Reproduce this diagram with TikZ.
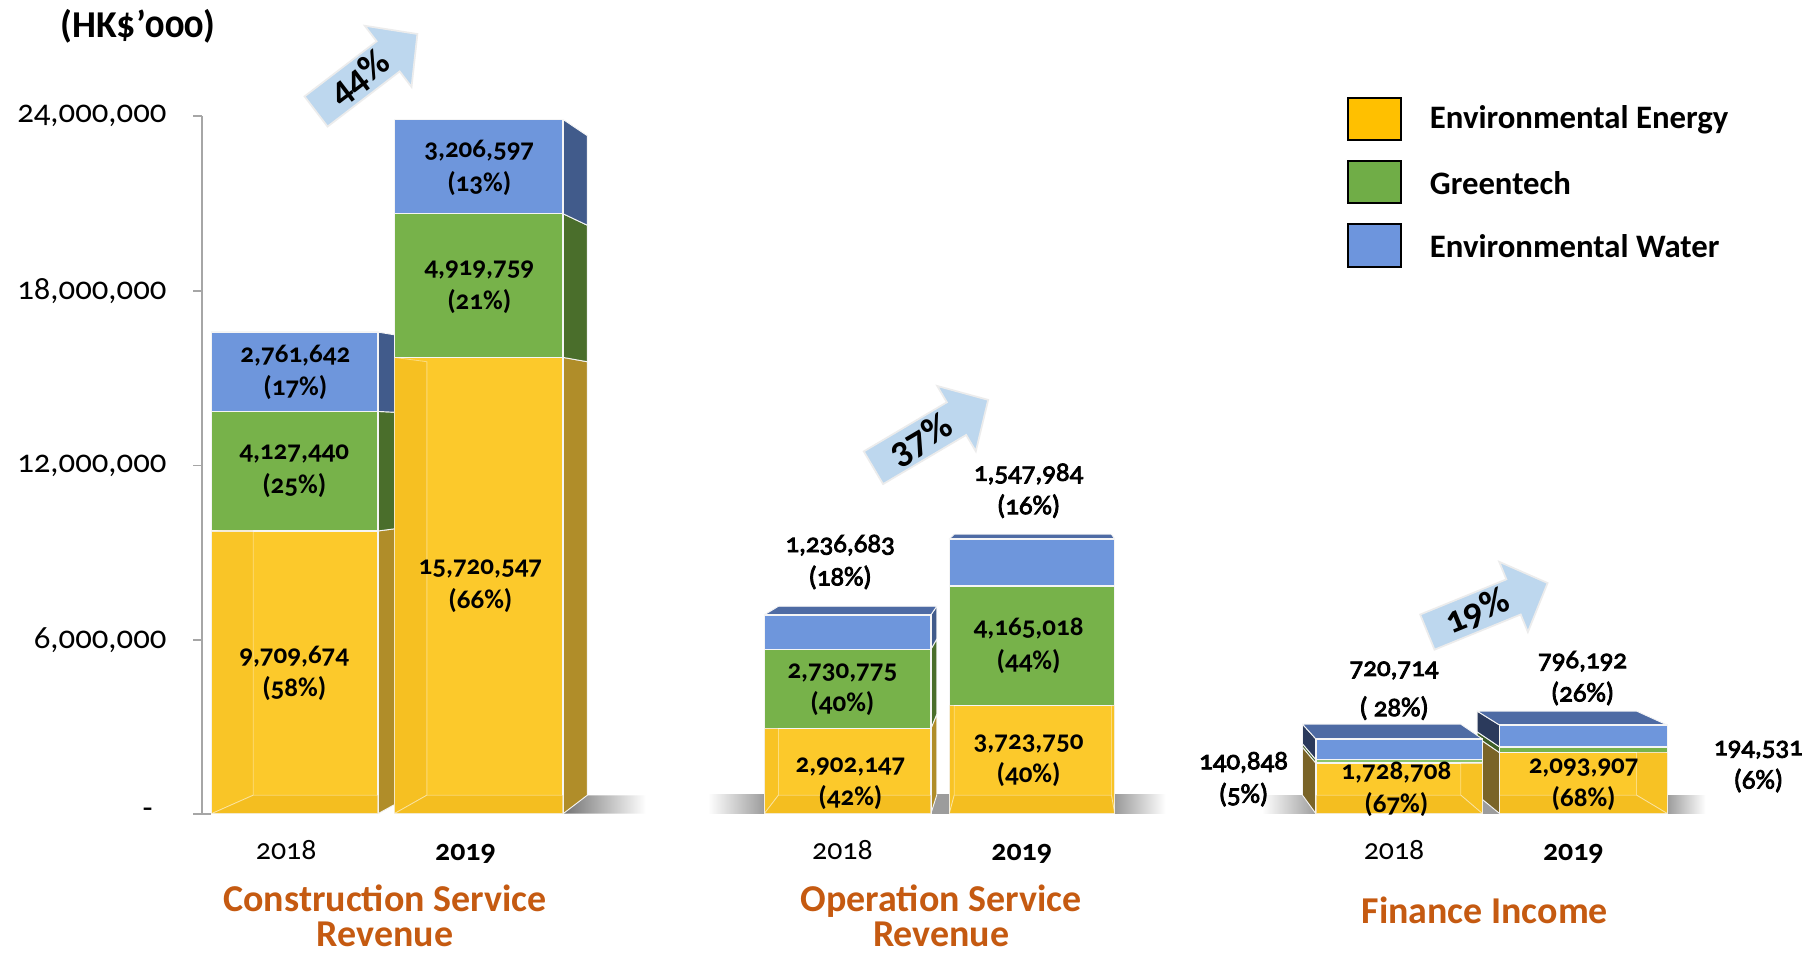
\documentclass[tikz,border=0pt]{standalone}
\usepackage{fontspec}
\setmainfont{Carlito}[Numbers=OldStyle]
\newfontfamily\medfont{Carlito}[Numbers=OldStyle, FakeBold=3]
\usetikzlibrary{calc}
\definecolor{ee}{HTML}{FCC92B}
\definecolor{eeside}{HTML}{B08D29}
\definecolor{eeleft}{HTML}{7A6428}
\definecolor{eebot}{HTML}{E9AE10}
\definecolor{gt}{HTML}{77B24A}
\definecolor{gtside}{HTML}{4A6E2B}
\definecolor{gtleft}{HTML}{3E5E26}
\definecolor{gtthin}{HTML}{8CC46A}
\definecolor{ew}{HTML}{6E96DC}
\definecolor{ewside}{HTML}{415B8B}
\definecolor{ewleft}{HTML}{2B3A5C}
\definecolor{ewtop}{HTML}{4E6BA4}
\definecolor{legee}{HTML}{FFC000}
\definecolor{leggt}{HTML}{70AD47}
\definecolor{legew}{HTML}{6D95DD}
\definecolor{arrowfill}{HTML}{BDD7EE}
\definecolor{titlecol}{HTML}{C55A11}
\definecolor{axisgray}{HTML}{A6A6A6}
\definecolor{slab}{HTML}{9C9C9C}
% quad face between a front edge and its receding copy toward V
\newcommand\qface[5]{\filldraw[face,fill=#1] (#2,#3) -- ($(#2,#3)!0.05!(V)$) -- ($(#4,#5)!0.05!(V)$) -- (#4,#5) -- cycle;}
\newcommand\qinner[6]{\filldraw[inner,fill=#1,fill opacity=#6] (#2,#3) -- ($(#2,#3)!0.05!(V)$) -- ($(#4,#5)!0.05!(V)$) -- (#4,#5) -- cycle;}
\newcommand\fseg[5]{\filldraw[seg,fill=#1] (#2,#3) rectangle (#4,#5);}
\tikzset{
  face/.style={draw=white!92!gray, line width=0.8, line join=round},
  inner/.style={draw=white, draw opacity=0.4, line width=0.7},
  seg/.style={draw=white!92!gray, line width=1.2},
  lab/.style={font=\fontsize{23.5}{29}\selectfont\bfseries, align=center, inner sep=0},
  olab/.style={font=\fontsize{23.5}{29}\selectfont\medfont, align=center, inner sep=0},
  axl/.style={font=\fontsize{28.5}{30}\selectfont, anchor=east, inner sep=0},
  yr/.style={font=\fontsize{26}{30}\selectfont, inner sep=0},
  yrb/.style={font=\fontsize{26}{30}\selectfont\bfseries, inner sep=0},
  ttl/.style={font=\fontsize{33}{30}\selectfont\bfseries, text=titlecol, align=center, inner sep=0},
  leg/.style={font=\fontsize{28.5}{30}\selectfont\bfseries, anchor=west, inner sep=0},
  legbox/.style={draw=black, line width=1.8},
  arr/.style={fill=arrowfill, draw=white!85!gray, line width=1.5, line join=miter},
  arrtxt/.style={font=\fontsize{33}{33}\selectfont\bfseries, inner sep=0},
}
\begin{document}
\begin{tikzpicture}[x=1pt,y=-1pt]
\fill[white] (0,0) rectangle (1568,830);
\useasboundingbox (0,0) rectangle (1568,830);
\coordinate (V) at (912,386);

% ---- floor slabs ----
\shade[left color=black!55, right color=white] (490,708) -- (511,692) -- (562,692) -- (562,708) -- cycle;
\shade[left color=white, right color=slab] (616,691) rectangle (665,708);
\fill[slab] (664,691) rectangle (972,708);
\shade[left color=slab, right color=white] (971,691) rectangle (1014,708);
\shade[left color=white, right color=slab] (1098,692) rectangle (1146,708);
\fill[slab] (1145,692) rectangle (1452,708);
\shade[left color=slab, right color=white] (1451,692) rectangle (1484,708);

% ---- axis ----
\draw[axisgray, line width=1.5] (176,101) -- (176,708);
\foreach \yy in {101,253,405,557,708} \draw[axisgray, line width=1.5] (168,\yy) -- (176,\yy);
\draw[axisgray, line width=1.5] (176,708) -- (184,708);
\node[axl] (t24) at (145,101) {24,000,000};
\node[axl] (t18) at (145,253) {18,000,000};
\node[axl] (t12) at (145,405) {12,000,000};
\node[axl] (t6) at (145,557) {6,000,000};
\node[axl] (t0) at (133,708) {-};
\node[font=\fontsize{33}{33}\selectfont\bfseries, inner sep=0] (unit) at (120,23) {(HK\$’000)};

% ---- exterior faces ----
% construction 2018 (right side)
\qface{eeside}{329}{708}{329}{462}
\qface{gtside}{329}{462}{329}{358}
\qface{ewside}{329}{358}{329}{289}
% construction 2019 (right side)
\qface{eeside}{490}{708}{490}{311}
\qface{gtside}{490}{311}{490}{186}
\qface{ewside}{490}{186}{490}{104}
% operation 2018 (right side + top)
\qface{eeside}{810}{708}{810}{634}
\qface{gtside}{810}{634}{810}{565}
\qface{ewside}{810}{565}{810}{535}
\qface{ewtop}{665}{535}{810}{535}
% operation 2019 (top)
\qface{ewtop}{826}{469}{970}{469}
% finance 2019 (left side + top)
\qface{eeleft}{1305}{708}{1305}{655}
\qface{gtleft}{1305}{655}{1305}{650}
\qface{ewleft}{1305}{650}{1305}{631}
\qface{ewtop}{1305}{631}{1451}{631}
% finance 2018 (left side + top)
\qface{eeleft}{1145}{708}{1145}{664}
\qface{gtleft}{1145}{664}{1145}{661}
\qface{ewleft}{1145}{661}{1145}{643}
\qface{ewtop}{1145}{643}{1290}{643}

% ---- front faces ----
\fseg{ee}{184}{708}{329}{462}
\fseg{gt}{184}{462}{329}{358}
\fseg{ew}{184}{358}{329}{289}
\fseg{ee}{343}{708}{490}{311}
\fseg{gt}{343}{311}{490}{186}
\fseg{ew}{343}{186}{490}{104}
\fseg{ee}{665}{708}{810}{634}
\fseg{gt}{665}{634}{810}{565}
\fseg{ew}{665}{565}{810}{535}
\fseg{ee}{826}{708}{970}{614}
\fseg{gt}{826}{614}{970}{510}
\fseg{ew}{826}{510}{970}{469}
\fseg{ee}{1145}{708}{1290}{664}
\fseg{gtthin}{1145}{664}{1290}{661}
\fseg{ew}{1145}{661}{1290}{643}
\fseg{ee}{1305}{708}{1451}{655}
\fseg{gt}{1305}{655}{1451}{650}
\fseg{ew}{1305}{650}{1451}{631}

% ---- interior faces seen through the front ----
\begin{scope}\clip (184,462) rectangle (329,708);
\qinner{eebot}{184}{462}{184}{708}{0.12}\qinner{eebot}{184}{708}{329}{708}{0.4}\end{scope}
\begin{scope}\clip (343,311) rectangle (490,708);
\qinner{eebot}{343}{311}{343}{708}{0.3}\qinner{eebot}{343}{708}{490}{708}{0.4}\end{scope}
\begin{scope}\clip (665,634) rectangle (810,708);
\qinner{eebot}{665}{634}{665}{708}{0.2}\qinner{eebot}{665}{708}{810}{708}{0.4}\end{scope}
\begin{scope}\clip (826,614) rectangle (970,708);
\qinner{eebot}{826}{614}{826}{708}{0.2}\qinner{eebot}{970}{614}{970}{708}{0.2}\qinner{eebot}{826}{708}{970}{708}{0.4}\end{scope}
\begin{scope}\clip (1145,664) rectangle (1290,708);
\qinner{eebot}{1290}{664}{1290}{708}{0.25}\qinner{eebot}{1145}{708}{1290}{708}{0.4}\end{scope}
\begin{scope}\clip (1305,655) rectangle (1451,708);
\qinner{eebot}{1451}{655}{1451}{708}{0.25}\qinner{eebot}{1305}{708}{1451}{708}{0.4}\end{scope}

% ---- value labels ----
\node[lab] (c18w) at (257,324) {2,761,642\\(17\%)};
\node[lab] (c18g) at (256,410) {4,127,440\\(25\%)};
\node[lab] (c18e) at (256,586) {9,709,674\\(58\%)};
\node[lab] (c19w) at (417,146) {3,206,597\\(13\%)};
\node[lab] (c19g) at (417,250) {4,919,759\\(21\%)};
\node[lab] (c19e) at (418,510) {15,720,547\\(66\%)};
\node[olab] (o18w) at (731,489) {1,236,683\\(18\%)};
\node[lab] (o18g) at (733,600) {2,730,775\\(40\%)};
\node[lab] (o18e) at (740,682) {2,902,147\\(42\%)};
\node[olab] (o19w) at (895,427) {1,547,984\\(16\%)};
\node[lab] (o19g) at (895,562) {4,165,018\\(44\%)};
\node[lab] (o19e) at (895,662) {3,723,750\\(40\%)};
\node[olab] (f18w) at (1213,601) {720,714\\[6pt]( 28\%)};
\node[olab] (f18g) at (1082,678) {140,848\\(5\%)};
\node[lab] (f18e) at (1215,687) {1,728,708\\(67\%)};
\node[olab] (f19w) at (1377,590) {796,192\\(26\%)};
\node[olab] (f19g) at (1530,667) {194,531\\(6\%)};
\node[lab] (f19e) at (1378,683) {2,093,907\\(68\%)};

% ---- years ----
\node[yr] (y1a) at (249,740) {2018};
\node[yrb] (y1b) at (405,743) {2019};
\node[yr] (y2a) at (733,740) {2018};
\node[yrb] (y2b) at (889,743) {2019};
\node[yr] (y3a) at (1213,740) {2018};
\node[yrb] (y3b) at (1369,743) {2019};

% ---- category titles ----
\node[ttl] (cat1) at (335,797) {Construction Service\\Revenue};
\node[ttl] (cat2) at (819,797) {Operation Service\\Revenue};
\node[ttl] (cat3) at (1292,792) {Finance Income};

% ---- growth arrows ----
\begin{scope}[shift={(275,97)}, rotate=37.4]
\filldraw[arr] (0,-16.5) -- (79,-16.5) -- (79,-33.5) -- (111,0) -- (79,33.5) -- (79,16.5) -- (0,16.5) -- cycle;
\node[arrtxt, rotate=37.4] (g1) at (48,0) {44\%};
\end{scope}
\begin{scope}[shift={(760,407)}, rotate=30.6]
\filldraw[arr] (0,-16.5) -- (84,-16.5) -- (84,-33) -- (116,0) -- (84,33) -- (84,16.5) -- (0,16.5) -- cycle;
\node[arrtxt, rotate=30.6] (g2) at (48,0) {37\%};
\end{scope}
\begin{scope}[shift={(1242,550)}, rotate=22.2]
\filldraw[arr] (0,-16.5) -- (81,-16.5) -- (81,-33) -- (113,0) -- (81,33) -- (81,16.5) -- (0,16.5) -- cycle;
\node[arrtxt, rotate=22.2] (g3) at (47,0) {19\%};
\end{scope}

% ---- legend ----
\filldraw[legbox, fill=legee] (1173,85) rectangle (1219,122);
\filldraw[legbox, fill=leggt] (1173,140) rectangle (1219,177);
\filldraw[legbox, fill=legew] (1173,195) rectangle (1219,232);
\node[leg] (l1) at (1244,104) {Environmental Energy};
\node[leg] (l2) at (1244,159) {Greentech};
\node[leg] (l3) at (1244,214) {Environmental Water};
\end{tikzpicture}
\end{document}
